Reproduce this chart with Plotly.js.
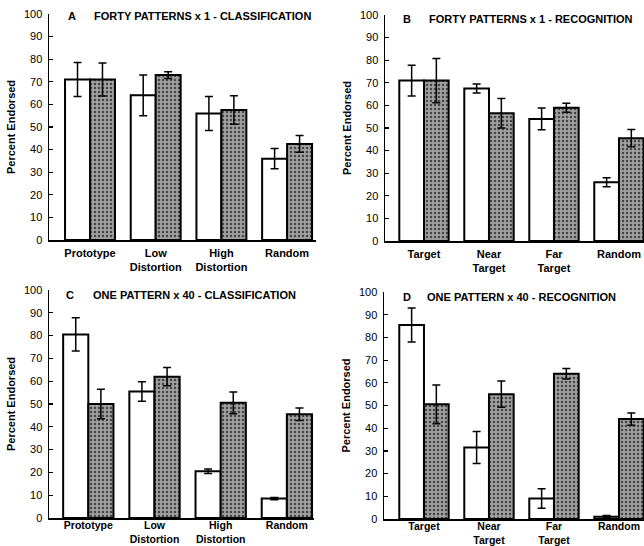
<!DOCTYPE html>
<html>
<head>
<meta charset="utf-8">
<script src="https://cdn.plot.ly/plotly-3.0.1.min.js"></script>
<style>html,body{margin:0;padding:0;background:#fff;}#chart{width:644px;height:546px;}</style>
</head>
<body>
<div id="chart"></div>
<script>
// Categories / tick labels
var catClass = ["Prototype", "Low<br>Distortion", "High<br>Distortion", "Random"];
var catRecog = ["Target", "Near<br>Target", "Far<br>Target", "Random"];

// Panel titles
var panelLetters = ["A", "B", "C", "D"];
var panelTitles = [
  "FORTY PATTERNS x 1 - CLASSIFICATION",
  "FORTY PATTERNS x 1 - RECOGNITION",
  "ONE PATTERN x 40 - CLASSIFICATION",
  "ONE PATTERN x 40 - RECOGNITION"
];

// Panel A
var aWhite = [71, 64, 56, 36];
var aWhiteErr = [7.5, 9, 7.5, 4.5];
var aGrey = [71, 73, 57.5, 42.5];
var aGreyErr = [7.3, 1.5, 6.3, 3.7];
// Panel B
var bWhite = [71, 67.5, 54, 26];
var bWhiteErr = [6.8, 2, 4.8, 2];
var bGrey = [71, 56.5, 59, 45.5];
var bGreyErr = [9.8, 6.5, 2, 3.8];
// Panel C
var cWhite = [80.5, 55.5, 20.5, 8.5];
var cWhiteErr = [7.3, 4.3, 1, 0.5];
var cGrey = [50, 62, 50.5, 45.5];
var cGreyErr = [6.5, 4, 4.8, 2.7];
// Panel D
var dWhite = [85.5, 31.5, 9, 1];
var dWhiteErr = [7.5, 7, 4.3, 0.5];
var dGrey = [50.5, 55, 64, 44];
var dGreyErr = [8.5, 5.8, 2.3, 2.7];

var yTitle = "Percent Endorsed";

var W = 644, H = 546;
var FONT = "Liberation Sans, Arial, sans-serif";

// pixel geometry per panel
var geo = [
  {x0: 49, x1: 316, y0: 240, y100: 14, range: [-0.624, 3.44], standoff: 2, fs: 11},
  {x0: 385, x1: 644, y0: 241, y100: 15, range: [-0.6, 3.385], standoff: 2, fs: 11},
  {x0: 49, x1: 314, y0: 518, y100: 290, range: [-0.594, 3.41], standoff: -3, fs: 10.5},
  {x0: 384, x1: 644, y0: 519, y100: 292, range: [-0.615, 3.385], standoff: -3, fs: 10.5}
];

var panels = [
  {cats: catClass, w: aWhite, we: aWhiteErr, g: aGrey, ge: aGreyErr},
  {cats: catRecog, w: bWhite, we: bWhiteErr, g: bGrey, ge: bGreyErr},
  {cats: catClass, w: cWhite, we: cWhiteErr, g: cGrey, ge: cGreyErr},
  {cats: catRecog, w: dWhite, we: dWhiteErr, g: dGrey, ge: dGreyErr}
];

var data = [];
var layout = {
  width: W, height: H,
  margin: {l: 0, r: 0, t: 0, b: 0},
  paper_bgcolor: "#fff", plot_bgcolor: "rgba(0,0,0,0)",
  showlegend: false,
  barmode: "group", bargap: 0.24, bargroupgap: 0,
  font: {family: FONT, color: "#000", size: 11},
  annotations: []
};

panels.forEach(function(p, i) {
  var n = i + 1;
  var xa = n === 1 ? "x" : "x" + n;
  var ya = n === 1 ? "y" : "y" + n;
  var err = function(arr) {
    return {type: "data", array: arr, visible: true, color: "#000", thickness: 1.5, width: 4};
  };
  data.push({
    type: "bar", x: p.cats, y: p.w, xaxis: xa, yaxis: ya,
    marker: {color: "#ffffff", line: {color: "#000", width: 2}},
    error_y: err(p.we), hoverinfo: "skip"
  });
  data.push({
    type: "bar", x: p.cats, y: p.g, xaxis: xa, yaxis: ya,
    marker: {color: "#8e8e8e", line: {color: "#000", width: 2},
      pattern: {shape: ".", fgcolor: "#444444", bgcolor: "#a0a0a0", size: 4, solidity: 0.3}},
    error_y: err(p.ge), hoverinfo: "skip"
  });
  var g = geo[i];
  var xk = n === 1 ? "xaxis" : "xaxis" + n;
  var yk = n === 1 ? "yaxis" : "yaxis" + n;
  layout[xk] = {
    domain: [g.x0 / W, g.x1 / W], anchor: ya, type: "category",
    range: g.range, showline: true, linecolor: "#000", linewidth: 1.5,
    ticks: "", showgrid: false, zeroline: false, ticklabelstandoff: g.standoff,
    tickfont: {family: FONT, size: g.fs, color: "#000", weight: "bold"},
    fixedrange: true
  };
  layout[yk] = {
    domain: [(H - g.y0) / H, (H - g.y100) / H], anchor: xa,
    range: [0, 100], dtick: 10, tick0: 0,
    showline: true, linecolor: "#000", linewidth: 1.5,
    ticks: "inside", ticklen: 4, tickwidth: 1.2, tickcolor: "#000",
    showgrid: false, zeroline: false, ticklabelstandoff: 3,
    tickfont: {family: FONT, size: 11, color: "#000"},
    title: {text: yTitle, font: {family: FONT, size: 11, color: "#000", weight: "bold"}, standoff: 6},
    fixedrange: true
  };
  var letterX = [66, 401, 64, 401][i];
  var textX = [92, 427, 91, 425][i];
  var ty = [16, 19, 295, 297][i];
  layout.annotations.push({
    xref: "paper", yref: "paper", x: letterX / W, y: 1 - ty / H,
    xanchor: "left", yanchor: "middle", showarrow: false,
    text: "<b>" + panelLetters[i] + "</b>",
    font: {family: FONT, size: 11, color: "#000"}
  });
  layout.annotations.push({
    xref: "paper", yref: "paper", x: textX / W, y: 1 - ty / H,
    xanchor: "left", yanchor: "middle", showarrow: false,
    text: "<b>" + panelTitles[i] + "</b>",
    font: {family: FONT, size: 11, color: "#000"}
  });
});

Plotly.newPlot("chart", data, layout, {staticPlot: true, displayModeBar: false});
</script>
</body>
</html>
